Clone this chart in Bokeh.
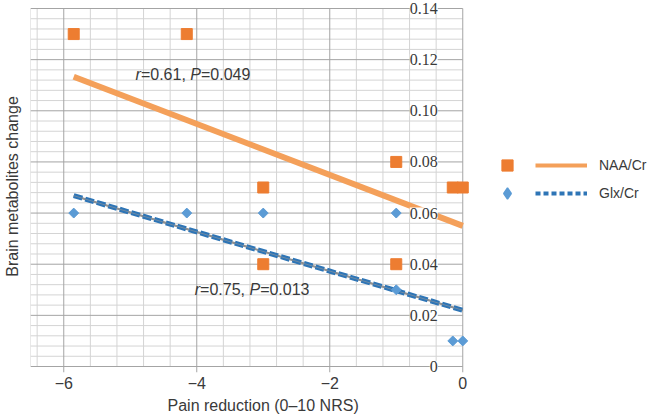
import numpy as np
from bokeh.plotting import figure
from bokeh.models import (ColumnDataSource, FixedTicker, Label, LabelSet,
                          Legend, LegendItem, Range1d, Title)
from bokeh.embed import file_html
from bokeh.resources import INLINE

# ---------------- data ----------------
naa_x = [-5.85, -4.15, -3.0, -3.0, -1.0, -1.0, -0.15, 0.0]
naa_y = [0.13, 0.13, 0.07, 0.04, 0.08, 0.04, 0.07, 0.07]
glx_x = [-5.85, -4.15, -3.0, -1.0, -1.0, -0.15, 0.0]
glx_y = [0.06, 0.06, 0.06, 0.06, 0.03, 0.01, 0.01]
fit_x = [-5.85, 0.0]
naa_fit_y = [0.1133, 0.055]
glx_fit_y = [0.0668, 0.022]
x_ticks = [-6, -4, -2, 0]
x_tick_labels = ["\u22126", "\u22124", "\u22122", "0"]
y_ticks = [0, 0.02, 0.04, 0.06, 0.08, 0.10, 0.12, 0.14]
y_tick_labels = ["0", "0.02", "0.04", "0.06", "0.08", "0.10", "0.12", "0.14"]
series_names = ["NAA/Cr", "Glx/Cr"]
naa_stat = ["r", "=0.61, ", "P", "=0.049"]
glx_stat = ["r", "=0.75, ", "P", "=0.013"]

# extents of the gridded data area
X0, X1 = -6.5, 0.0
Y0, Y1 = 0.0, 0.14

FONT = "Liberation Sans"
TXT = "#3a3a3a"
ORANGE_PT = "#ED7D31"
ORANGE_LN = "#F4A05A"
BLUE_PT = "#5B9BD5"
BLUE_LN = "#2E75B6"
GRID_MAJ = "#a4a4a4"
GRID_MIN = "#d4d4d4"

FRAME_W, FRAME_H = 624, 372
px_per_x = 66.5
px_per_y = 358 / 0.14
x_range = Range1d(X0, X0 + FRAME_W / px_per_x)
y_range = Range1d(Y0 - 6 / px_per_y, Y1 + 8 / px_per_y)

p = figure(frame_width=FRAME_W, frame_height=FRAME_H, output_backend="svg",
           toolbar_location=None, x_range=x_range, y_range=y_range,
           min_border_left=28, min_border_top=0, min_border_right=0,
           min_border_bottom=0)
p.background_fill_color = "white"
p.border_fill_color = "white"
p.outline_line_color = None
p.xgrid.visible = False
p.ygrid.visible = False

# ---- grid drawn only over the data area ----
x_minor = [v for v in np.round(np.arange(-6.4, 0.0, 0.4), 3) if v not in x_ticks] + [X0]
y_minor = [v for v in np.round(np.arange(0.0, 0.1401, 0.004), 4)
           if not np.isclose(v / 0.02, round(v / 0.02))]


def vlines(xs, color, bottom=Y0):
    p.segment(x0=xs, y0=[bottom] * len(xs), x1=xs, y1=[Y1] * len(xs),
              line_color=color, line_width=1)


def hlines(ys, color):
    p.segment(x0=[X0] * len(ys), y0=ys, x1=[X1] * len(ys), y1=ys,
              line_color=color, line_width=1)


vlines(x_minor, GRID_MIN)
hlines(y_minor, GRID_MIN)
# major vertical lines run a little below zero, like tick marks
vlines(x_ticks, GRID_MAJ, bottom=y_range.start)
hlines(y_ticks, GRID_MAJ)

# x axis (title added separately so it can sit under the data area)
xa = p.xaxis[0]
xa.ticker = FixedTicker(ticks=x_ticks)
xa.major_label_overrides = {t: l for t, l in zip(x_ticks, x_tick_labels)}
xa.axis_line_color = None
xa.major_tick_line_color = None
xa.minor_tick_line_color = None
xa.major_tick_out = 0
xa.major_tick_in = 0
xa.minor_tick_out = 0
xa.major_label_standoff = 4
xa.major_label_text_font = FONT
xa.major_label_text_font_size = "16px"
xa.major_label_text_color = TXT

p.add_layout(Title(text="Pain reduction (0\u201310 NRS)", align="left",
                   offset=137, standoff=7, text_font=FONT,
                   text_font_size="16px", text_font_style="normal",
                   text_color=TXT), "below")

# y axis (title only; tick labels drawn inside at x = 0)
ya = p.yaxis[0]
ya.ticker = FixedTicker(ticks=[])
ya.axis_line_color = None
ya.major_tick_line_color = None
ya.minor_tick_line_color = None
ya.major_label_standoff = 0
ya.major_tick_out = 0
ya.major_tick_in = 0
ya.minor_tick_out = 0
ya.axis_label = "Brain metabolites change"
ya.axis_label_text_font = FONT
ya.axis_label_text_font_size = "16px"
ya.axis_label_text_font_style = "normal"
ya.axis_label_text_color = TXT
ya.axis_label_standoff = 10

# trend lines
p.line(fit_x, naa_fit_y, line_color=ORANGE_LN, line_width=6)
p.line(fit_x, glx_fit_y, line_color="#8a8a8a", line_width=2)
p.line(fit_x, glx_fit_y, line_color=BLUE_LN, line_width=5, line_dash="9 3")
p.line(fit_x, glx_fit_y, line_color="#9a9a9a", line_width=1, line_alpha=0.6)

# points
naa_r = p.scatter(naa_x, naa_y, marker="square", size=11,
                  fill_color=ORANGE_PT, line_color=ORANGE_PT)
glx_r = p.scatter(glx_x, glx_y, marker="square", size=7, angle=np.pi / 4,
                  fill_color=BLUE_PT, line_color=BLUE_PT)

# y tick labels inside the plot at x = 0
ysrc = ColumnDataSource(dict(x=[X1] * len(y_ticks), y=y_ticks, text=y_tick_labels))
p.add_layout(LabelSet(x="x", y="y", text="text", source=ysrc, x_offset=-25,
                      text_align="right", text_baseline="middle",
                      text_font=FONT, text_font_size="16px", text_color=TXT,
                      background_fill_color="white"))

# correlation annotations with italic r and P
W = {"r": 0.333, "=": 0.584, "0": 0.556, "1": 0.556, "3": 0.556, "4": 0.556,
     "5": 0.556, "6": 0.556, "7": 0.556, "9": 0.556, ".": 0.278, ",": 0.278,
     " ": 0.278, "P": 0.667}
FS = 16


def stat_label(x, y, parts):
    full = "".join(parts)
    p.add_layout(Label(x=x, y=y, text=full, text_font=FONT,
                       text_font_size=f"{FS}px", text_alpha=0.0,
                       text_baseline="middle", background_fill_color="white",
                       padding=2))
    off = 0.0
    for i, part in enumerate(parts):
        p.add_layout(Label(x=x, y=y, x_offset=off, text=part, text_font=FONT,
                           text_font_size=f"{FS}px", text_color=TXT,
                           text_baseline="middle",
                           text_font_style="italic" if i % 2 == 0 else "normal"))
        off += sum(W[c] for c in part) * FS


stat_label(-4.92, 0.114, naa_stat)
stat_label(-4.03, 0.030, glx_stat)

# legend: markers column + lines column (inside the frame, right of the data)
nan = [np.nan]
leg_naa_mk = p.scatter(nan, nan, marker="square", fill_color=ORANGE_PT,
                       line_color=ORANGE_PT)
leg_glx_mk = p.scatter(nan, nan, marker="diamond", fill_color=BLUE_PT,
                       line_color=BLUE_PT, line_width=1.5)
leg_naa_line = p.line(nan, nan, line_color=ORANGE_LN, line_width=4)
leg_glx_line = p.line(nan, nan, line_color=BLUE_LN, line_width=4, line_dash="5 3")

legA = Legend(items=[LegendItem(label=" ", renderers=[leg_naa_mk]),
                     LegendItem(label=" ", renderers=[leg_glx_mk])],
              location=(463, 165), glyph_width=28, glyph_height=28, spacing=0,
              padding=0, margin=0, label_standoff=0, label_width=0,
              label_height=0, label_text_font_size="1px",
              border_line_alpha=0, background_fill_alpha=0)
legB = Legend(items=[LegendItem(label=series_names[0], renderers=[leg_naa_line]),
                     LegendItem(label=series_names[1], renderers=[leg_glx_line])],
              location=(505, 165), glyph_width=52, glyph_height=28, spacing=0,
              padding=0, margin=0, label_standoff=12, label_height=14,
              label_text_font=FONT, label_text_font_size="14px",
              label_text_color=TXT, border_line_alpha=0, background_fill_alpha=0)
p.add_layout(legA)
p.add_layout(legB)

open("out.html", "w").write(file_html(p, INLINE))
